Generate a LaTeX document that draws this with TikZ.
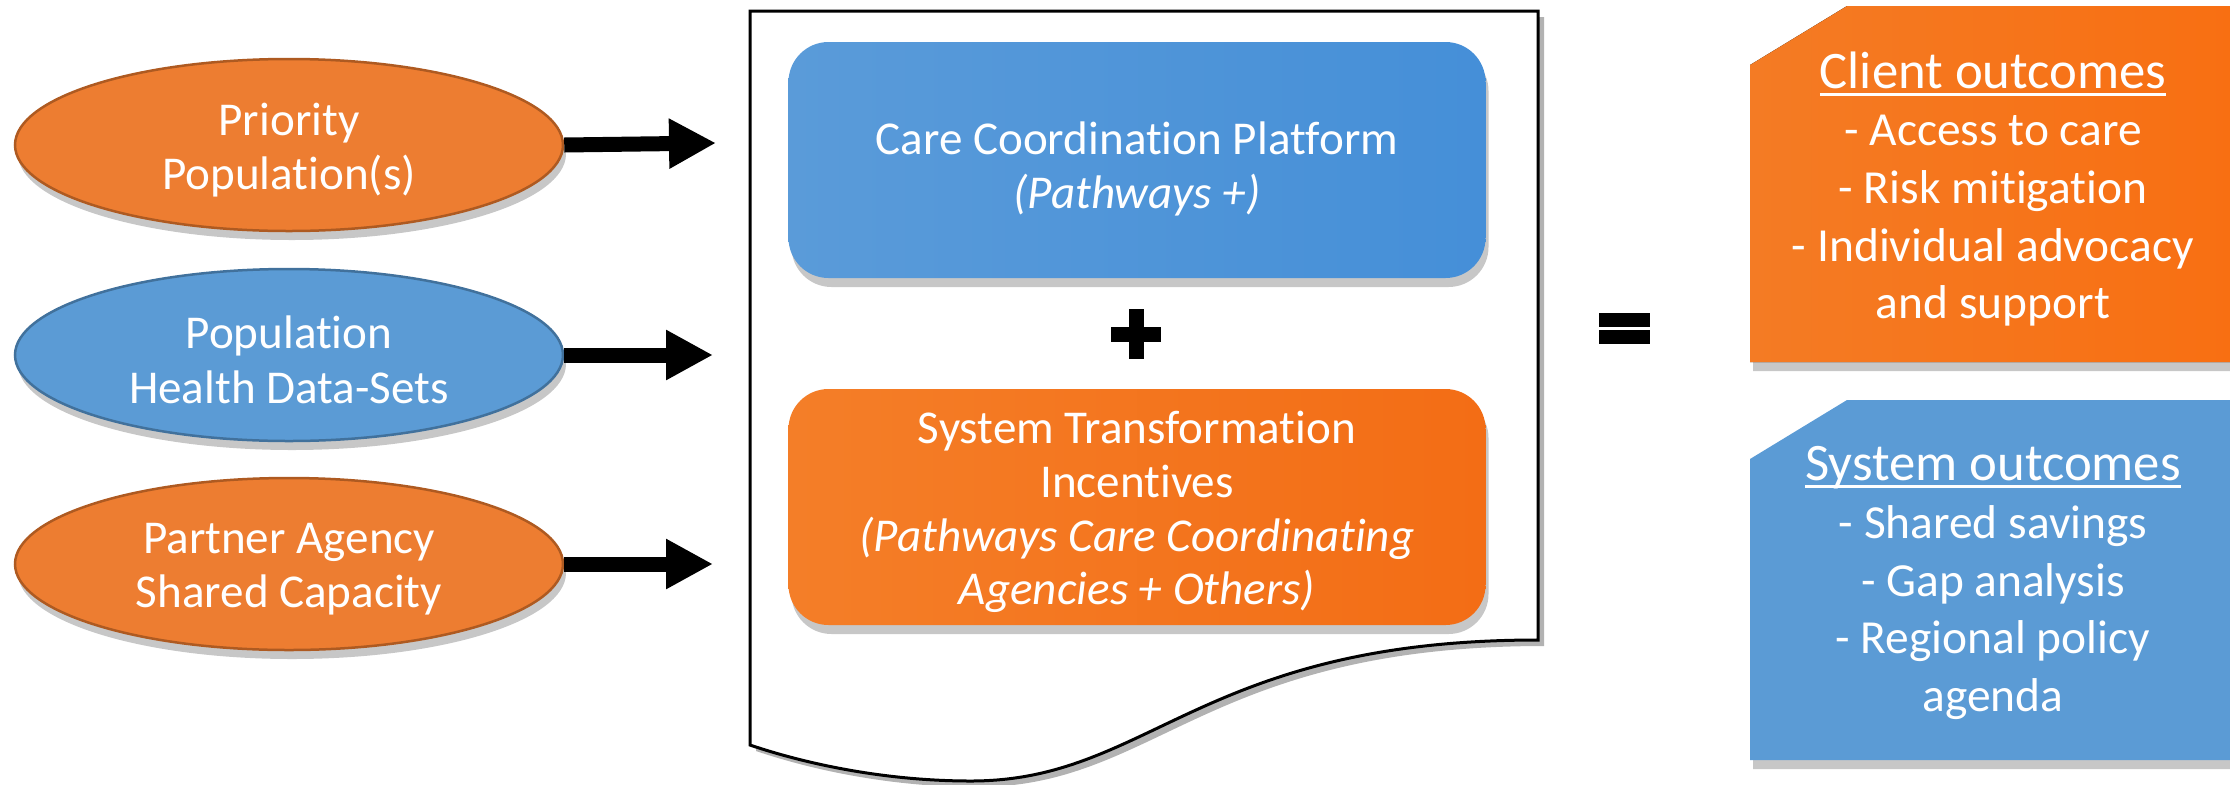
\documentclass[tikz,border=0pt]{standalone}
\usepackage{fontspec}
\setmainfont{Carlito}[Ligatures=NoCommon]
\usetikzlibrary{arrows.meta,shapes.geometric,shadows}

\definecolor{inorange}{HTML}{ED7D31}
\definecolor{inorangeline}{HTML}{AE5A21}
\definecolor{inblue}{HTML}{5B9BD5}
\definecolor{inblueline}{HTML}{41719C}
\definecolor{platformL}{HTML}{5A9BD9}
\definecolor{platformR}{HTML}{458FD8}
\definecolor{incentL}{HTML}{F47E28}
\definecolor{incentR}{HTML}{F36D15}
\definecolor{outorangeL}{HTML}{F47B24}
\definecolor{outorangeR}{HTML}{F86F12}
\definecolor{outblue}{HTML}{5B9BD5}

% underlined heading of an outcome box
\newcommand{\outhead}[1]{{\fontsize{15pt}{16.4pt}\selectfont
  \setbox0\hbox{#1}\rlap{\rule[-0.75mm]{\wd0}{0.3mm}}\box0}}

\tikzset{
  softshadow/.style={drop shadow={shadow xshift=0.3mm, shadow yshift=-0.9mm, opacity=0.22, fill=black}},
  input/.style={ellipse, minimum width=54.8mm, minimum height=17.2mm, inner sep=0pt,
    line width=0.25mm, softshadow},
  stage/.style={rectangle, rounded corners=4mm, minimum width=69.7mm, minimum height=23.6mm,
    inner sep=0pt, softshadow},
  label/.style={text=white, align=center, inner sep=0pt},
  inputtext/.style={label, font=\fontsize{13.4pt}{15.5pt}\selectfont},
  stagetext/.style={label, font=\fontsize{13.4pt}{15.3pt}\selectfont},
  outtext/.style={label, font=\fontsize{13.5pt}{16.4pt}\selectfont},
  feed/.style={line width=1.5mm, -{Triangle[length=4.7mm, width=4.7mm]}},
  paper/.style={draw=black, line width=0.3mm, fill=white,
    drop shadow={shadow xshift=0.6mm, shadow yshift=-0.6mm, opacity=0.3, fill=black}}
}

\begin{document}
\begin{tikzpicture}[x=0.1mm, y=-0.1mm]
    \useasboundingbox (0, 0) rectangle (2230, 784);

    % Inputs
    \node[input, fill=inorange, draw=inorangeline] (prio) at (289, 145) {};
    \node[input, fill=inblue, draw=inblueline] (data) at (289, 355) {};
    \node[input, fill=inorange, draw=inorangeline] (partner) at (289, 564) {};
    \node[inputtext] (priotext) at (289, 150) {Priority\\Population(s)};
    \node[inputtext] (datatext) at (289, 360) {Population\\Health Data-Sets};
    \node[inputtext] (partnertext) at (289, 569) {Partner Agency\\Shared Capacity};

    \coordinate (tip1) at (716, 143);
    \coordinate (tip2) at (713, 355);
    \coordinate (tip3) at (713, 564);
    \draw[feed] (prio.east) -- (tip1);
    \draw[feed] (data.east) -- (tip2);
    \draw[feed] (partner.east) -- (tip3);

    % Document with the two stages
    \draw[paper] (750, 11) -- (1538, 11) -- (1538, 640)
        .. controls (1200, 640) and (1150, 781) .. (971, 781)
        .. controls (880, 781) and (800, 762) .. (750, 745) -- cycle;

    \node[stage, left color=platformL, right color=platformR] (platform) at (1137, 160) {};
    \node[stage, left color=incentL, right color=incentR] (incent) at (1137, 507) {};
    \node[stagetext] (platformtext) at (1137, 169)
        {Care Coordination Platform\\\textit{(Pathways +)}};
    \node[stagetext] (incenttext) at (1137, 512)
        {System Transformation\\Incentives\\\textit{(Pathways Care Coordinating}\\\textit{Agencies + Others)}};

    % Plus
    \coordinate (plus) at (1136, 334);
    \fill (plus) +(-25, -7.5) rectangle +(25, 7.5);
    \fill (plus) +(-7.5, -25) rectangle +(7.5, 25);

    % Equals
    \coordinate (equals) at (1624, 328);
    \filldraw[draw=white, line width=0.1mm] (equals) +(-26, -16) rectangle +(26, -1);
    \filldraw[draw=white, line width=0.1mm] (equals) +(-26, 1) rectangle +(26, 16);

    % Outcomes
    \fill[left color=outorangeL, right color=outorangeR, softshadow]
        (1750, 65) -- (1847, 6) -- (2236, 6) -- (2236, 362) -- (1750, 362) -- cycle;
    \fill[outblue, softshadow]
        (1750, 459) -- (1847, 400) -- (2236, 400) -- (2236, 760) -- (1750, 760) -- cycle;
    \node[outtext] (client) at (1993, 189)
        {\outhead{Client outcomes}\\- Access to care\\- Risk mitigation\\- Individual advocacy\\and support};
    \node[outtext] (system) at (1993, 583)
        {\outhead{System outcomes}\\- Shared savings\\- Gap analysis\\- Regional policy\\agenda};

\end{tikzpicture}
\end{document}
